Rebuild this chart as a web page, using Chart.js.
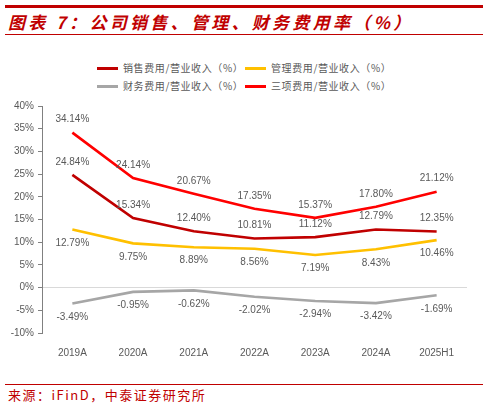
<!DOCTYPE html>
<html>
<head>
<meta charset="utf-8">
<script src="https://cdn.jsdelivr.net/npm/chart.js@4"></script>
<style>
  html, body { margin: 0; padding: 0; background: #fff; }
  body { width: 488px; height: 408px; position: relative; overflow: hidden; font-family: "Noto Sans CJK SC", sans-serif; }
  .rule { position: absolute; left: 5px; width: 478px; background: #C00000; }
  #title { position: absolute; left: 8px; top: 9px; font-size: 17px; font-weight: bold; font-style: italic; color: #C00000; letter-spacing: 3.3px; white-space: nowrap; line-height: 26px; }
  #source { position: absolute; left: 8px; top: 386px; font-size: 13px; color: #C00000; white-space: nowrap; line-height: 18px; letter-spacing: 1.5px; }
  #legend { position: absolute; left: 97px; top: 59px; width: 330px; font-size: 10px; color: #595959; letter-spacing: 0.6px; }
  .item { position: absolute; white-space: nowrap; line-height: 18px; }
  .item i { display: inline-block; width: 21px; height: 3px; vertical-align: middle; margin-right: 5px; position: relative; top: -1px; }
  #wrap { position: absolute; left: 0; top: 90px; width: 488px; height: 275px; }
</style>
</head>
<body>
<div class="rule" style="top:5px;height:3px"></div>
<div id="title">图表 7：公司销售、管理、财务费用率（%）</div>
<div class="rule" style="top:34px;height:1px"></div>
<div id="legend"></div>
<div id="wrap"><canvas id="chart1"></canvas></div>
<div class="rule" style="top:384px;height:1px"></div>
<div id="source">来源：iFinD，中泰证券研究所</div>

<script>
const categories = ['2019A', '2020A', '2021A', '2022A', '2023A', '2024A', '2025H1'];
const salesRate = [24.84, 15.34, 12.40, 10.81, 11.12, 12.79, 12.35];
const adminRate = [12.79, 9.75, 8.89, 8.56, 7.19, 8.43, 10.46];
const financeRate = [-3.49, -0.95, -0.62, -2.02, -2.94, -3.42, -1.69];
const totalRate = [34.14, 24.14, 20.67, 17.35, 15.37, 17.80, 21.12];
const yTicks = [-10, -5, 0, 5, 10, 15, 20, 25, 30, 35, 40];

function line(label, values, color, labelPos) {
    return {
        label: label,
        data: values,
        borderColor: color,
        backgroundColor: color,
        borderWidth: 2.6,
        pointRadius: 0,
        tension: 0,
        labelPos: labelPos
    }
}

const datasets = [
    line('销售费用/营业收入（%）', salesRate, '#C00000', 'above'),
    line('管理费用/营业收入（%）', adminRate, '#FFC000', 'below'),
    line('财务费用/营业收入（%）', financeRate, '#A6A6A6', 'below'),
    line('三项费用/营业收入（%）', totalRate, '#FF0000', 'above')
];

// legend in two rows, built from the datasets
const legendPos = [[0, 0], [148, 0], [0, 18], [148, 18]];
const legend = document.getElementById('legend');
datasets.forEach((ds, i) => {
    const el = document.createElement('div');
    el.className = 'item';
    el.style.left = legendPos[i][0] + 'px';
    el.style.top = legendPos[i][1] + 'px';
    el.innerHTML = '<i style="background:' + ds.borderColor + '"></i>' + ds.label;
    legend.appendChild(el);
});

const valueLabels = {
    id: 'valueLabels',
    afterDatasetsDraw(chart) {
        const ctx = chart.ctx;
        ctx.save();
        ctx.font = '10px "Liberation Sans", Arial, sans-serif';
        ctx.fillStyle = '#595959';
        ctx.textAlign = 'center';
        ctx.textBaseline = 'middle';
        chart.data.datasets.forEach((ds, i) => {
            chart.getDatasetMeta(i).data.forEach((pt, j) => {
                const dy = ds.labelPos === 'above' ? -13 : 13.5;
                ctx.fillText(ds.data[j].toFixed(2) + '%', pt.x, pt.y + dy);
            });
        });
        ctx.restore();
    }
};

Chart.defaults.font.family = '"Liberation Sans", Arial, sans-serif';
Chart.defaults.color = '#595959';

new Chart('chart1', {
    type: 'line',
    data: { labels: categories, datasets },
    plugins: [valueLabels],
    options: {
        responsive: true,
        maintainAspectRatio: false,
        animation: false,
        layout: { padding: { top: 16, right: 21, left: 0, bottom: 0 } },
        plugins: { legend: { display: false }, tooltip: { enabled: false } },
        scales: {
            x: {
                offset: true,
                grid: { display: false },
                border: { display: false },
                ticks: { font: { size: 10 }, color: '#595959', padding: 6 },
                afterFit: scale => { scale.height = 32; }
            },
            y: {
                min: -10,
                max: 40,
                afterBuildTicks: scale => { scale.ticks = yTicks.map(v => ({ value: v })); },
                afterFit: scale => { scale.width = 42; },
                border: { display: true, color: '#808080', width: 1 },
                grid: {
                    color: c => c.tick && c.tick.value === 0 ? '#D9D9D9' : 'rgba(0,0,0,0)',
                    tickColor: '#808080',
                    tickLength: 4,
                    drawTicks: true
                },
                ticks: { font: { size: 10 }, color: '#595959', padding: 4, callback: v => v + '%' }
            }
        }
    }
});
</script>
</body>
</html>
